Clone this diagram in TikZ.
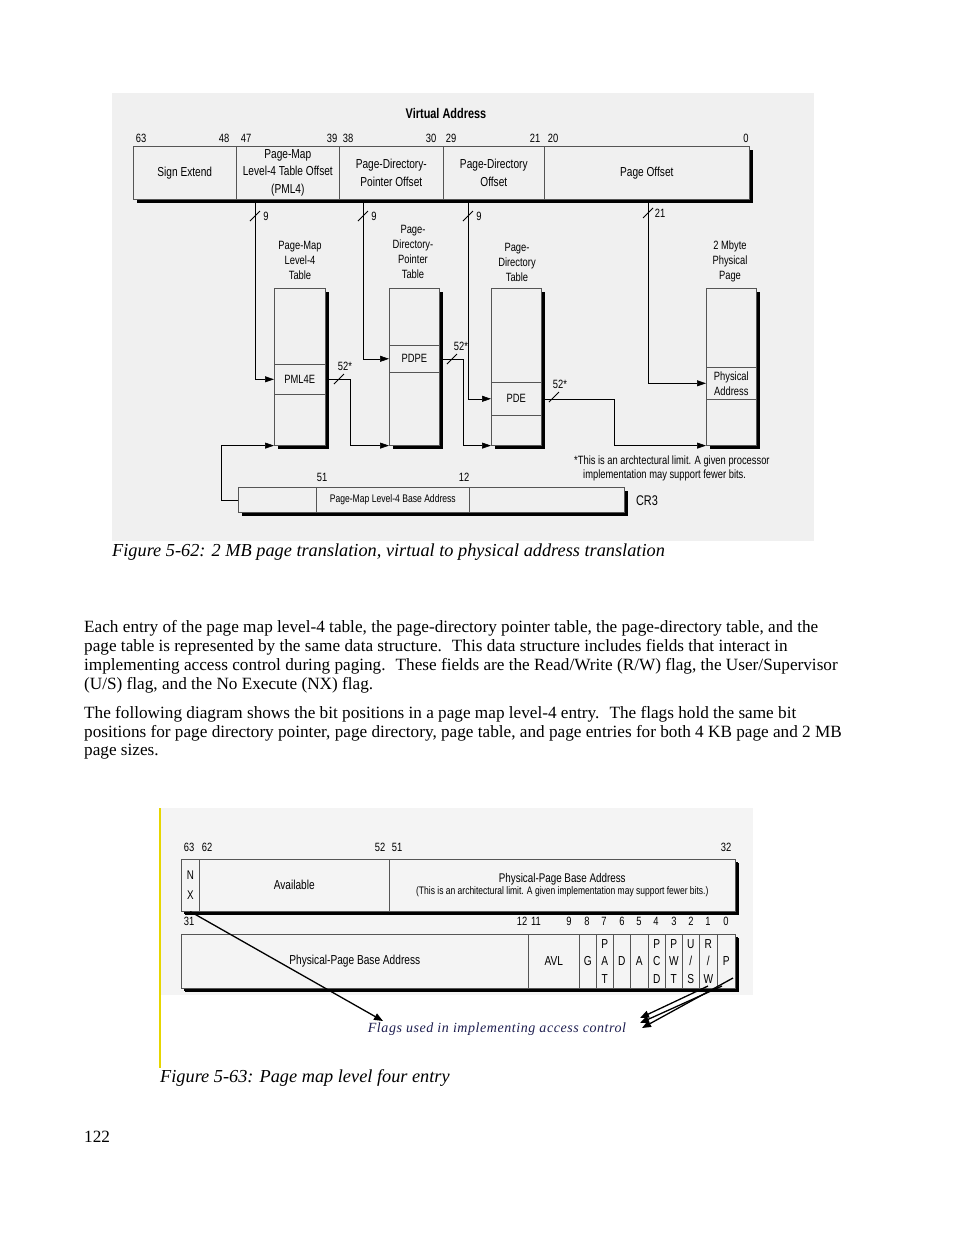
\documentclass[tikz,border=0pt]{standalone}
\usepackage{fontspec}
\setmainfont{Liberation Serif}
\newfontfamily\figfont[FakeStretch=0.78]{Liberation Sans}
\usetikzlibrary{arrows.meta,shadows}

\definecolor{figgray}{HTML}{F0F0F0}
\definecolor{figgraylight}{HTML}{F4F4F4}
\definecolor{boxline}{HTML}{555555}
\definecolor{marginyellow}{HTML}{E6D600}
\definecolor{flagblue}{HTML}{1E1E50}

\tikzset{
  txt/.style={font=\fontsize{17.2}{19}\selectfont, anchor=west, inner sep=0pt},
  captxt/.style={font=\fontsize{18.3}{20}\selectfont\itshape, anchor=west, inner sep=0pt},
  bitno/.style={font=\figfont\fontsize{12}{14}\selectfont, inner sep=0pt},
  lbl/.style={font=\figfont\fontsize{12}{15}\selectfont, inner sep=0pt, align=center},
  outer/.style={draw=boxline, fill=figgray, line width=0.6pt, anchor=north west, inner sep=0pt,
    drop shadow={shadow xshift=4pt, shadow yshift=-4pt, fill=black, opacity=1}},
  field/.style={draw=boxline, line width=0.6pt, anchor=north west, inner sep=0pt,
    align=center, minimum width=#1, font=\figfont\fontsize{13}{17.5}\selectfont},
  tbl/.style={outer, minimum width=51, minimum height=157},
  entry/.style={field=51, fill=figgray, font=\figfont\fontsize{12}{15}\selectfont},
  link/.style={draw=black, line width=0.6pt, -{Triangle[length=9pt,width=6pt]}},
  bus/.style={draw=black, line width=0.9pt},
  flag/.style={draw=black, line width=1.3pt, -{Triangle[length=9pt,width=7pt]}}
}

% slash mark on a bus line: name, slash centre, label position, label
\newcommand\busslash[4]{%
  \draw[bus] (#2) ++(-5,5) -- ++(10,-10);
  \node[bitno] (#1) at (#3) {#4};}

\begin{document}
\begin{tikzpicture}[x=1pt,y=-1pt]
\useasboundingbox[fill=white] (0,0) rectangle (954,1235);

% ---------- Figure 5-62 ----------
\fill[figgray] (112,93) rectangle (814,541);
\node[font=\figfont\bfseries\fontsize{14}{16}\selectfont] (vatitle) at (446,113) {Virtual Address};
\foreach \bx/\bn in {141/63, 224/48, 246/47, 332/39, 348/38, 431/30, 451/29, 535/21, 553/20, 746/0}
  \node[bitno] (va-bit-\bn) at (\bx,138) {\bn};

\node[outer, minimum width=616, minimum height=53] (va) at (133,146) {};
\begin{scope}[every node/.append style={minimum height=53}]
\node[field=103] (signext) at (133,146) {Sign Extend};
\node[field=103] (pml4off) at (236,146) {Page-Map\\Level-4 Table Offset\\(PML4)};
\node[field=104] (pdpoff) at (339,146) {Page-Directory-\\Pointer Offset};
\node[field=101] (pdoff) at (443,146) {Page-Directory\\Offset};
\node[field=205] (pageoff) at (544,146) {Page Offset};
\end{scope}

% tables
\node[lbl] (pml4t-lbl) at (300,260) {Page-Map\\Level-4\\Table};
\node[lbl] (pdpt-lbl) at (413,252) {Page-\\Directory-\\Pointer\\Table};
\node[lbl] (pdt-lbl) at (517,262) {Page-\\Directory\\Table};
\node[lbl] (page-lbl) at (730,261) {2 Mbyte\\Physical\\Page};

\node[tbl] (pml4t) at (274,288) {};
\node[tbl, minimum width=50] (pdpt) at (389,288) {};
\node[tbl, minimum width=50] (pdt) at (491,288) {};
\node[tbl, minimum width=50] (page) at (706,288) {};

\node[entry, minimum height=30] (pml4e) at (274,364) {PML4E};
\node[entry, minimum height=27, minimum width=50] (pdpe) at (389,345) {PDPE};
\node[entry, minimum height=33, minimum width=50] (pde) at (491,382) {PDE};
\node[entry, minimum height=32, minimum width=50] (phys) at (706,367) {Physical\\Address};

% index lines from the virtual address
\coordinate (tap1) at (255,203);
\coordinate (tap2) at (363,203);
\coordinate (tap3) at (468,203);
\coordinate (tap4) at (648,203);
\draw[link] (tap1) |- (pml4e.west);
\draw[link] (tap2) |- (pdpe.west);
\draw[link] (tap3) |- (pde.west);
\draw[link] (tap4) |- (phys.west);
\busslash{w1}{255,216}{266,216}{9}
\busslash{w2}{363,216}{374,216}{9}
\busslash{w3}{468,216}{479,216}{9}
\busslash{w4}{648,213}{660,213}{21}

% base address lines
\draw[link] (pml4e.east) -- ++(25,0) |- (pdpt.south west);
\draw[link] (pdpe.east) -- ++(24,0) |- (pdt.south west);
\draw[link] (pde.east) -- ++(73,0) |- (page.south west);
\busslash{w5}{339,379}{345,366}{52*}
\busslash{w6}{452,359}{461,346}{52*}
\busslash{w7}{554,397}{560,384}{52*}

% CR3
\node[bitno] (cr3-bit51) at (322,477) {51};
\node[bitno] (cr3-bit12) at (464,477) {12};
\node[outer, minimum width=386, minimum height=25] (cr3) at (238,487) {};
\begin{scope}[every node/.append style={minimum height=25}]
\node[field=78] (cr3-hi) at (238,487) {};
\node[field=153, font=\figfont\fontsize{11}{13}\selectfont] (cr3-base) at (316,487) {Page-Map Level-4 Base Address};
\node[field=155] (cr3-lo) at (469,487) {};
\end{scope}
\node[font=\figfont\fontsize{14}{16}\selectfont] (cr3-name) at (647,501) {CR3};
\draw[link] (cr3.west) -- ++(-17,0) |- (pml4t.south west);

\node[lbl, anchor=west] (note1) at (574,461) {*This is an archtectural limit. A given processor};
\node[lbl, anchor=west] (note2) at (583,475) {implementation may support fewer bits.};

\node[captxt] (cap62) at (112,552) {Figure 5-62: 2 MB page translation, virtual to physical address translation};

% ---------- text ----------
\node[txt] (p1a) at (84,628) {Each entry of the page map level-4 table, the page-directory pointer table, the page-directory table, and the};
\node[txt] (p1b) at (84,647) {page table is represented by the same data structure.~ This data structure includes fields that interact in};
\node[txt] (p1c) at (84,666) {implementing access control during paging.~ These fields are the Read/Write (R/W) flag, the User/Supervisor};
\node[txt] (p1d) at (84,685) {(U/S) flag, and the No Execute (NX) flag.};
\node[txt] (p2a) at (84,714) {The following diagram shows the bit positions in a page map level-4 entry.~ The flags hold the same bit};
\node[txt] (p2b) at (84,733) {positions for page directory pointer, page directory, page table, and page entries for both 4 KB page and 2 MB};
\node[txt] (p2c) at (84,752) {page sizes.};

% ---------- Figure 5-63 ----------
\fill[figgraylight] (161,808) rectangle (753,995);
\draw[marginyellow, line width=1.5pt] (160,808) -- (160,1068);

\foreach \bx/\bn in {189/63, 207/62, 380/52, 397/51, 726/32}
  \node[bitno] (hi-bit-\bn) at (\bx,847) {\bn};
\node[outer, fill=figgraylight, minimum width=554, minimum height=52,
  drop shadow={shadow xshift=2.5pt, shadow yshift=-2.5pt, fill=black, opacity=1}] (hi) at (181,859) {};
\begin{scope}[every node/.append style={minimum height=52}]
\node[field=18, font=\figfont\fontsize{12.6}{20}\selectfont] (nx) at (181,859) {N\\X};
\node[field=190] (avail) at (199,859) {Available};
\node[field=346, font=\figfont\fontsize{12.6}{17}\selectfont] (hibase) at (389,859) {Physical-Page Base Address\\[-5pt]{\fontsize{10.9}{12}\selectfont(This is an architectural limit. A given implementation may support fewer bits.)}};
\end{scope}

\foreach \bx/\bn in {189/31, 522/12, 536/11, 569/9, 587/8, 604/7, 622/6, 639/5, 656/4, 674/3, 691/2, 708/1, 726/0}
  \node[bitno] (lo-bit-\bn) at (\bx,921) {\bn};
\node[outer, fill=figgraylight, minimum width=554, minimum height=54,
  drop shadow={shadow xshift=2.5pt, shadow yshift=-2.5pt, fill=black, opacity=1}] (lo) at (181,934) {};
\begin{scope}[every node/.append style={minimum height=54, font=\figfont\fontsize{12.6}{16.5}\selectfont}]
\node[field=347] (lobase) at (181,934) {Physical-Page Base Address};
\node[field=51] (avl) at (528,934) {AVL};
\foreach \fx/\fw/\fname/\ftext in {579/17/g/{G}, 596/17/pat/{P\\A\\T}, 613/17/d/{D}, 630/18/a/{A},
    648/17/pcd/{P\\C\\D}, 665/17/pwt/{P\\W\\T}, 682/17/us/{U\\{/}\\S}, 699/18/rw/{R\\{/}\\W}, 717/18/p/{P}}
  \node[field=\fw] (\fname) at (\fx,934) {\ftext};
\end{scope}

\node[font={\fontsize{14}{16}\selectfont\itshape\addfontfeature{LetterSpace=4}}, text=flagblue, inner sep=0pt] (flags) at (497,1029) {Flags used in implementing access control};
\coordinate (flag-nx) at (383,1021);
\coordinate (flag-r1) at (640,1018);
\coordinate (flag-r2) at (640,1023);
\coordinate (flag-r3) at (642,1028);
\coordinate (foot-rw) at (708,986);
\coordinate (foot-p) at (722,986);
\coordinate (foot-edge) at (733,978);
\draw[flag] (nx.south) -- (flag-nx);
\draw[flag] (foot-rw) -- (flag-r1);
\draw[flag] (foot-p) -- (flag-r2);
\draw[flag] (foot-edge) -- (flag-r3);

\node[captxt] (cap63) at (160,1078) {Figure 5-63: Page map level four entry};
\node[txt] (pageno) at (84,1137) {122};
\end{tikzpicture}
\end{document}
